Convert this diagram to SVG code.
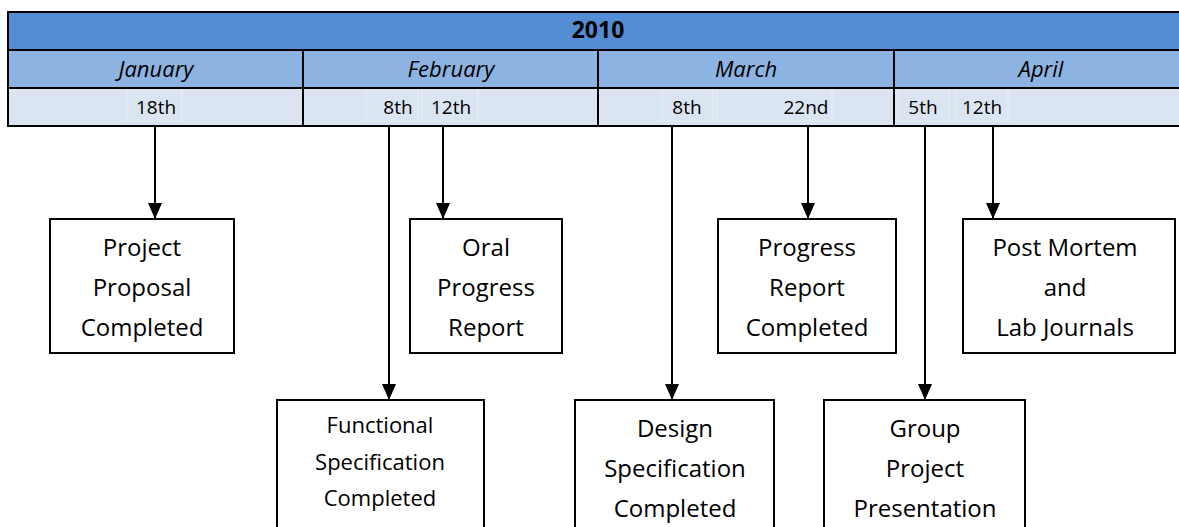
<svg xmlns="http://www.w3.org/2000/svg" width="1179" height="527" viewBox="0 0 1179 527">
  <style>
    .txt { font-family: "Open Sans", "DejaVu Sans", sans-serif; fill: #000; text-anchor: middle; }
    .year { font-size: 23px; font-weight: bold; }
    .month { font-size: 22px; font-style: italic; }
    .day { font-size: 19px; }
    .label { font-size: 24px; }
    .label-sm { font-size: 22px; }
    .grid { stroke: #000; stroke-width: 2; fill: none; }
    .sub { stroke: #E8EEF7; stroke-width: 1; fill: none; }
    .box { fill: #fff; stroke: #000; stroke-width: 2; }
    .conn { stroke: #000; stroke-width: 2; fill: none; marker-end: url(#arrow); }
  </style>
  <defs>
    <marker id="arrow" viewBox="0 0 16 14" markerWidth="16" markerHeight="14" refX="16" refY="7" orient="auto" markerUnits="userSpaceOnUse">
      <path d="M0,0 L16,7 L0,14 z" fill="#000"/>
    </marker>
  </defs>

  <rect width="1179" height="527" fill="#fff"/>

  <!-- timeline header table -->
  <g id="timeline">
    <rect x="8" y="12" width="1180" height="38" fill="#548DD4"/>
    <rect x="8" y="50" width="1180" height="38" fill="#8DB3E2"/>
    <rect x="8" y="88" width="1180" height="38" fill="#DBE5F1"/>
    <!-- day sub-cells -->
    <rect class="sub" x="127" y="89" width="55" height="32"/>
    <rect class="sub" x="366" y="89" width="52" height="32"/>
    <rect class="sub" x="422" y="89" width="56" height="32"/>
    <rect class="sub" x="662" y="89" width="51" height="32"/>
    <rect class="sub" x="717" y="89" width="115" height="32"/>
    <rect class="sub" x="898" y="89" width="51" height="32"/>
    <rect class="sub" x="956" y="89" width="52" height="32"/>
    <rect class="grid" x="8" y="12" width="1180" height="114"/>
    <line class="grid" x1="8" y1="50" x2="1188" y2="50"/>
    <line class="grid" x1="8" y1="88" x2="1188" y2="88"/>
    <line class="grid" x1="303" y1="50" x2="303" y2="126"/>
    <line class="grid" x1="598" y1="50" x2="598" y2="126"/>
    <line class="grid" x1="894" y1="50" x2="894" y2="126"/>

    <text class="txt year" x="598" y="38">2010</text>
    <text class="txt month" x="156" y="77">January</text>
    <text class="txt month" x="451" y="77">February</text>
    <text class="txt month" x="746" y="77">March</text>
    <text class="txt month" x="1041" y="77">April</text>

    <text class="txt day" x="156" y="114">18th</text>
    <text class="txt day" x="398" y="114">8th</text>
    <text class="txt day" x="451" y="114">12th</text>
    <text class="txt day" x="687" y="114">8th</text>
    <text class="txt day" x="806" y="114">22nd</text>
    <text class="txt day" x="923" y="114">5th</text>
    <text class="txt day" x="982" y="114">12th</text>
  </g>

  <!-- connectors from dates to milestones -->
  <g id="connectors">
    <line class="conn" x1="155" y1="127" x2="155" y2="219"/>
    <line class="conn" x1="389" y1="127" x2="389" y2="400"/>
    <line class="conn" x1="443" y1="127" x2="443" y2="219"/>
    <line class="conn" x1="672" y1="127" x2="672" y2="400"/>
    <line class="conn" x1="808" y1="127" x2="808" y2="219"/>
    <line class="conn" x1="925" y1="127" x2="925" y2="400"/>
    <line class="conn" x1="993" y1="127" x2="993" y2="219"/>
  </g>

  <!-- milestones -->
  <g id="project-proposal">
    <rect class="box" x="50" y="219" width="184" height="134"/>
    <text class="txt label" x="142" y="256">Project</text>
    <text class="txt label" x="142" y="296">Proposal</text>
    <text class="txt label" x="142" y="336">Completed</text>
  </g>

  <g id="oral-progress-report">
    <rect class="box" x="410" y="219" width="152" height="134"/>
    <text class="txt label" x="486" y="256">Oral</text>
    <text class="txt label" x="486" y="296">Progress</text>
    <text class="txt label" x="486" y="336">Report</text>
  </g>

  <g id="progress-report">
    <rect class="box" x="718" y="219" width="178" height="134"/>
    <text class="txt label" x="807" y="256">Progress</text>
    <text class="txt label" x="807" y="296">Report</text>
    <text class="txt label" x="807" y="336">Completed</text>
  </g>

  <g id="post-mortem">
    <rect class="box" x="963" y="219" width="212" height="134"/>
    <text class="txt label" x="1065" y="256">Post Mortem</text>
    <text class="txt label" x="1065" y="296">and</text>
    <text class="txt label" x="1065" y="336">Lab Journals</text>
  </g>

  <g id="functional-specification">
    <rect class="box" x="277" y="400" width="207" height="140"/>
    <text class="txt label-sm" x="380" y="433">Functional</text>
    <text class="txt label-sm" x="380" y="470">Specification</text>
    <text class="txt label-sm" x="380" y="506">Completed</text>
  </g>

  <g id="design-specification">
    <rect class="box" x="575" y="400" width="199" height="140"/>
    <text class="txt label" x="675" y="437">Design</text>
    <text class="txt label" x="675" y="477">Specification</text>
    <text class="txt label" x="675" y="517">Completed</text>
  </g>

  <g id="group-presentation">
    <rect class="box" x="824" y="400" width="201" height="140"/>
    <text class="txt label" x="925" y="437">Group</text>
    <text class="txt label" x="925" y="477">Project</text>
    <text class="txt label" x="925" y="517">Presentation</text>
  </g>
</svg>
